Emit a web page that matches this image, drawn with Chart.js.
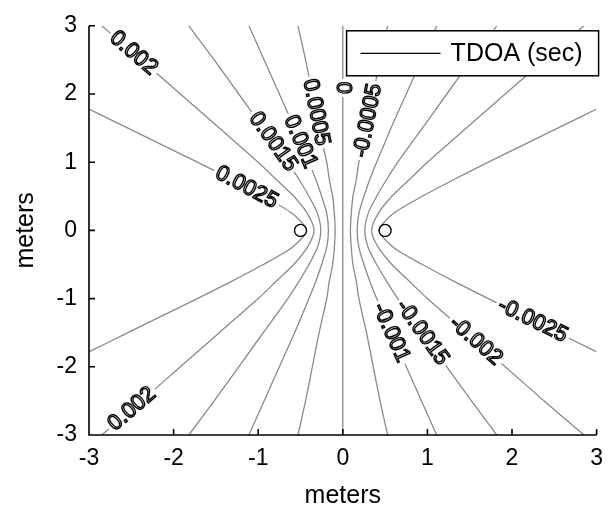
<!DOCTYPE html>
<html>
<head>
<meta charset="utf-8">
<title>TDOA contours</title>
<script src="https://cdn.jsdelivr.net/npm/chart.js@4.4.1/dist/chart.umd.min.js"></script>
<style>
  body { margin: 0; background: #fff; }
  canvas { display: block; }
</style>
</head>
<body>
<canvas id="tdoaChart" width="613" height="511"></canvas>
<script>
// heights (m) at which the hyperbolas crossing the top/bottom edges are sampled
const ySamples = [-3, -2.5, -2, -1.5, -1, -0.75, -0.5, -0.25, 0, 0.25, 0.5, 0.75, 1, 1.5, 2, 2.5, 3];

// positive delays sit on the left sensor's side
const xPos0005 = [-0.53, -0.44, -0.36, -0.28, -0.19, -0.16, -0.12, -0.10, -0.09, -0.10, -0.12, -0.16, -0.19, -0.28, -0.36, -0.44, -0.53];
const xPos0010 = [-1.11, -0.93, -0.75, -0.57, -0.40, -0.32, -0.25, -0.19, -0.17, -0.19, -0.25, -0.32, -0.40, -0.57, -0.75, -0.93, -1.11];
const xPos0015 = [-1.82, -1.52, -1.23, -0.94, -0.65, -0.52, -0.40, -0.30, -0.26, -0.30, -0.40, -0.52, -0.65, -0.94, -1.23, -1.52, -1.82];
const xPos0020 = [-2.85, -2.38, -1.92, -1.46, -1.00, -0.79, -0.58, -0.42, -0.34, -0.42, -0.58, -0.79, -1.00, -1.46, -1.92, -2.38, -2.85];

// negative delays, right sensor's side
const xNeg0005 = [0.53, 0.44, 0.36, 0.28, 0.19, 0.16, 0.12, 0.10, 0.09, 0.10, 0.12, 0.16, 0.19, 0.28, 0.36, 0.44, 0.53];
const xNeg0010 = [1.11, 0.93, 0.75, 0.57, 0.40, 0.32, 0.25, 0.19, 0.17, 0.19, 0.25, 0.32, 0.40, 0.57, 0.75, 0.93, 1.11];
const xNeg0015 = [1.82, 1.52, 1.23, 0.94, 0.65, 0.52, 0.40, 0.30, 0.26, 0.30, 0.40, 0.52, 0.65, 0.94, 1.23, 1.52, 1.82];
const xNeg0020 = [2.85, 2.38, 1.92, 1.46, 1.00, 0.79, 0.58, 0.42, 0.34, 0.42, 0.58, 0.79, 1.00, 1.46, 1.92, 2.38, 2.85];

// the 0.0025 curves leave through the side edges
const ySamples0025 = [-1.78, -1.5, -1.25, -1, -0.75, -0.5, -0.25, 0, 0.25, 0.5, 0.75, 1, 1.25, 1.5, 1.78];
const xPos0025 = [-3.0, -2.54, -2.13, -1.72, -1.32, -0.94, -0.60, -0.43, -0.60, -0.94, -1.32, -1.72, -2.13, -2.54, -3.0];
const xNeg0025 = [3.0, 2.54, 2.13, 1.72, 1.32, 0.94, 0.60, 0.43, 0.60, 0.94, 1.32, 1.72, 2.13, 2.54, 3.0];

// zero delay: the perpendicular bisector
const xZero = [0, 0];
const yZero = [-3, 3];

// microphone positions
const sensorX = [-0.5, 0.5];
const sensorY = [0, 0];

// inline contour labels: level text and the height where it sits on its curve
const labelText = ['0.002', '0.002', '0.0025', '0.0015', '0.001', '0.0005', '0', '-0.0005', '-0.001', '-0.0015', '-0.002', '-0.0025'];
const labelY = [2.6, -2.62, 0.63, 1.3, 1.3, 1.73, 2.09, 1.61, -1.5, -1.5, -1.62, -1.32];

const axisTicks = [-3, -2, -1, 0, 1, 2, 3];

const contours = [
  { level: '0.0025', x: xPos0025, y: ySamples0025 },
  { level: '0.002', x: xPos0020, y: ySamples },
  { level: '0.0015', x: xPos0015, y: ySamples },
  { level: '0.001', x: xPos0010, y: ySamples },
  { level: '0.0005', x: xPos0005, y: ySamples },
  { level: '0', x: xZero, y: yZero },
  { level: '-0.0005', x: xNeg0005, y: ySamples },
  { level: '-0.001', x: xNeg0010, y: ySamples },
  { level: '-0.0015', x: xNeg0015, y: ySamples },
  { level: '-0.002', x: xNeg0020, y: ySamples },
  { level: '-0.0025', x: xNeg0025, y: ySamples0025 }
];

const FONT = '"Liberation Sans", Arial, sans-serif';
Chart.defaults.font.family = FONT;
Chart.defaults.color = '#000';

const datasets = contours.map(c => ({
  label: 'TDOA (sec)',
  level: c.level,
  data: c.x.map((v, i) => ({ x: v, y: c.y[i] })),
  showLine: true,
  pointRadius: 0,
  borderColor: '#8a8a8a',
  borderWidth: 1.3,
  tension: 0.25,
  order: 1
}));

datasets.push({
  label: 'sensors',
  data: sensorX.map((v, i) => ({ x: v, y: sensorY[i] })),
  pointStyle: 'circle',
  pointRadius: 6,
  pointBackgroundColor: '#fff',
  pointBorderColor: '#000',
  pointBorderWidth: 1.4,
  order: -1
});

// writes each level onto its curve, rotated along it, with a white gap underneath
const contourLabels = {
  id: 'contourLabels',
  afterDatasetsDraw(chart) {
    const ctx = chart.ctx;
    const yScale = chart.scales.y;
    ctx.save();
    ctx.font = '22px ' + FONT;
    ctx.textAlign = 'center';
    ctx.textBaseline = 'middle';
    labelText.forEach((text, k) => {
      const idx = chart.data.datasets.findIndex(d => d.level === text);
      const pts = chart.getDatasetMeta(idx).data;
      const py = yScale.getPixelForValue(labelY[k]);
      for (let i = 0; i < pts.length - 1; i++) {
        const a = pts[i], b = pts[i + 1];
        if ((a.y - py) * (b.y - py) > 0) continue;
        const t = b.y === a.y ? 0 : (py - a.y) / (b.y - a.y);
        const px = a.x + t * (b.x - a.x);
        let ang = Math.atan2(b.y - a.y, b.x - a.x);
        if (ang > Math.PI / 2) ang -= Math.PI;
        else if (ang <= -Math.PI / 2) ang += Math.PI;
        const w = ctx.measureText(text).width;
        ctx.save();
        ctx.translate(px, py);
        ctx.rotate(ang);
        ctx.fillStyle = '#fff';
        ctx.fillRect(-w / 2 - 3, -9, w + 6, 18);
        ctx.strokeStyle = '#000';
        ctx.lineWidth = 1.4;
        ctx.strokeText(text, 0, 0);
        ctx.restore();
        break;
      }
    });
    ctx.restore();
  }
};

// left and bottom axis lines with inward ticks (no box)
const axisFrame = {
  id: 'axisFrame',
  afterDraw(chart) {
    const { ctx, chartArea: area, scales: { x, y } } = chart;
    ctx.save();
    ctx.strokeStyle = '#000';
    ctx.lineWidth = 1.6;
    ctx.beginPath();
    ctx.moveTo(area.left, area.top);
    ctx.lineTo(area.left, area.bottom);
    ctx.lineTo(area.right, area.bottom);
    axisTicks.forEach(v => {
      const px = x.getPixelForValue(v);
      ctx.moveTo(px, area.bottom);
      ctx.lineTo(px, area.bottom - 6);
      const py = y.getPixelForValue(v);
      ctx.moveTo(area.left, py);
      ctx.lineTo(area.left + 6, py);
    });
    ctx.stroke();
    ctx.restore();
  }
};

// boxed legend in the upper right corner of the plot
const boxLegend = {
  id: 'boxLegend',
  afterDraw(chart) {
    const { ctx, chartArea: area } = chart;
    const w = 252, h = 45;
    const left = area.right + 2 - w;
    const top = area.top + 5;
    ctx.save();
    ctx.fillStyle = '#fff';
    ctx.fillRect(left, top, w, h);
    ctx.strokeStyle = '#000';
    ctx.lineWidth = 1.5;
    ctx.strokeRect(left, top, w, h);
    ctx.lineWidth = 1.2;
    ctx.beginPath();
    ctx.moveTo(left + 14, top + h / 2);
    ctx.lineTo(left + 94, top + h / 2);
    ctx.stroke();
    ctx.fillStyle = '#000';
    ctx.font = '25px ' + FONT;
    ctx.textBaseline = 'middle';
    ctx.fillText(chart.data.datasets[0].label, left + 104, top + h / 2 + 1);
    ctx.restore();
  }
};

new Chart(document.getElementById('tdoaChart'), {
  type: 'scatter',
  data: { datasets: datasets },
  options: {
    responsive: false,
    animation: false,
    layout: { padding: { top: 25, right: 10, left: 0, bottom: 0 } },
    plugins: {
      legend: { display: false },
      tooltip: { enabled: false }
    },
    scales: {
      x: {
        type: 'linear',
        min: -3,
        max: 3,
        afterFit(scale) { scale.height = 76; },
        grid: { display: false, drawTicks: false },
        border: { display: false },
        ticks: { stepSize: 1, padding: 10, color: '#000', font: { size: 23 } },
        title: { display: true, text: 'meters', color: '#000', font: { size: 25 }, padding: { top: 0, bottom: 0 } }
      },
      y: {
        type: 'linear',
        min: -3,
        max: 3,
        afterFit(scale) { scale.width = 89; },
        grid: { display: false, drawTicks: false },
        border: { display: false },
        ticks: { stepSize: 1, padding: 12, color: '#000', font: { size: 23 } },
        title: { display: true, text: 'meters', color: '#000', font: { size: 25 }, padding: { top: 11, bottom: 0 } }
      }
    }
  },
  plugins: [contourLabels, axisFrame, boxLegend]
});
</script>
</body>
</html>
